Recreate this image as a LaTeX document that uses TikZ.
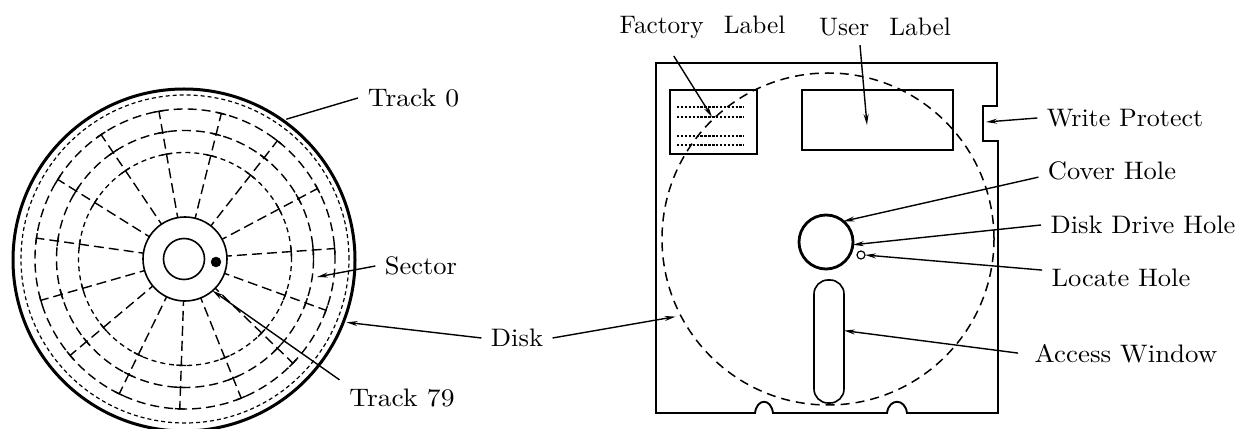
\documentclass[tikz,border=0pt]{standalone}
\usetikzlibrary{calc, positioning, arrows.meta}
\tikzset{
  lbl/.style={inner sep=0pt, outer sep=3.6pt, font=\normalsize, xscale=#1, yscale=2.53},
  lbl/.default=2.65,
  pointer/.style={line width=1.4pt, -{Stealth[length=11pt,width=5pt]}},
  leader/.style={line width=1.4pt},
  hole/.style={draw, circle, inner sep=0pt, outer sep=0pt},
  box/.style={draw, line width=1.8pt, inner sep=0pt, outer sep=0pt},
  trackline/.style={line width=1.4pt, dash pattern=on 9pt off 5pt},
  radial/.style={line width=1.4pt, dash pattern=on 10pt off 5pt, dash phase=5pt},
  dotrow/.style={line width=2.6pt, dash pattern=on 2.4pt off 1.5pt}
}
\begin{document}
\begin{tikzpicture}[x=1pt, y=1pt]
  \useasboundingbox (0,0) rectangle (1241,428);

  % disk surface
  \node[hole, line width=3pt, minimum size=342pt, outer sep=3pt] (disk) at (184,168) {};
  \node[hole, line width=1.6pt, minimum size=84pt] (hub) at (185,169) {};
  \node[hole, line width=1.6pt, minimum size=41pt] (spindle) at (184,169) {};
  \node[hole, fill=black, minimum size=10pt] (index) at (216,166) {};
  \draw[line width=1.2pt, dash pattern=on 4pt off 3pt] (hub.center) circle (164);
  \foreach \r in {150,128.5}
    \draw[trackline] (hub.center) circle (\r);
  \draw[line width=1.3pt, dash pattern=on 5pt off 4pt] (hub.center) circle (106.5);
  \foreach \a in {4,28,...,340} {
    \draw[radial] ($(hub.center)+(\a:42)$) -- ($(hub.center)+(\a:150)$);
    \foreach \r in {106.5,128.5,150} {
      \pgfmathsetmacro{\d}{286/\r}
      \draw[line width=1.4pt] ($(hub.center)+(\a-\d:\r)$) arc (\a-\d:\a+\d:\r);
    }
  }
  \coordinate (sectorend) at (317,151);

  % jacket
  \draw[line width=1.9pt] (656,365) -- (997,365) -- (997,322) -- (983,322) -- (983,287)
    -- (998,287) -- (998,15) -- (907,15) .. controls (905,30) and (889,30) .. (887,15)
    -- (773,15) .. controls (771,30) and (757,30) .. (755,15) -- (656,15) -- cycle;
  \coordinate (notch) at (986,306);
  \node[hole, line width=1.5pt, dash pattern=on 9pt off 6pt, minimum size=332pt, outer sep=5pt] (cookie) at (828,189) {};
  \node[box, minimum width=87pt, minimum height=64pt] (factorybox) at (713.5,306) {};
  \node[box, minimum width=151pt, minimum height=60pt] (userbox) at (877.5,308) {};
  \foreach \y in {321,311,292,283}
    \draw[dotrow] (677,\y) -- (744,\y);
  \coordinate (factoryend) at (712,311);
  \coordinate (userend) at (867,303);
  \node[hole, line width=2.8pt, minimum size=54pt] (bighole) at (826,186) {};
  \node[hole, line width=1.2pt, minimum size=8pt] (locate) at (861,173) {};
  \node[draw, line width=1.6pt, rounded corners=14pt, minimum width=30pt, minimum height=123pt,
    inner sep=0pt, outer sep=0pt] (window) at (829,86.5) {};

  % labels
  \node[lbl=2.76] (ltrackzero) at (413.5,330) {Track 0};
  \node[lbl] (lsector) at (421,162) {Sector};
  \node[lbl] (ldisk) at (517,90) {Disk};
  \node[lbl=2.76] (ltrackend) at (402,30) {Track 79};
  \node[lbl=2.53] (lfactory) at (702.5,401) {Factory\hskip8pt Label};
  \node[lbl=2.53] (luser) at (885,401) {User\hskip8pt Label};
  \node[lbl=2.6] (lprotect) at (1125,310) {Write Protect};
  \node[lbl] (lcover) at (1112,257) {Cover Hole};
  \node[lbl] (ldrive) at (1143,203) {Disk Drive Hole};
  \node[lbl] (llocate) at (1121,150) {Locate Hole};
  \node[lbl=2.69] (lwindow) at (1126,74) {Access Window};

  % connectors
  \draw[leader] (ltrackzero.west) -- (disk.54);
  \draw[pointer] (lsector.west) -- (sectorend);
  \draw[pointer] (ltrackend.north west) -- (hub.-49);
  \draw[pointer] (ldisk.west) -- (disk.-21);
  \draw[pointer] (ldisk.east) -- (cookie.207);
  \draw[pointer, shorten <=10pt] (lfactory.211) -- (factoryend);
  \draw[pointer] (luser.216) -- (userend);
  \draw[pointer] (lprotect.west) -- (notch);
  \draw[pointer] (lcover.185) -- (bighole.50);
  \draw[pointer] (ldrive.west) -- (bighole.-6);
  \draw[pointer] (llocate.174) -- (locate.0);
  \draw[pointer, shorten <=7pt] (lwindow.west) -- (window.36);
\end{tikzpicture}
\end{document}
